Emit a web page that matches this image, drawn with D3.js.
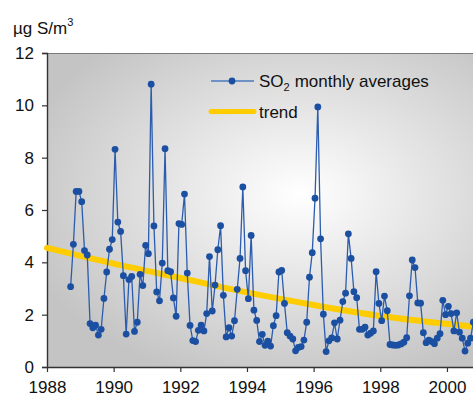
<!DOCTYPE html>
<html>
<head>
<meta charset="utf-8">
<script src="https://cdn.jsdelivr.net/npm/d3@7"></script>
<style>
  body { margin: 0; background: #fff; }
  svg { display: block; font-family: Arial, "Liberation Sans", sans-serif; }
</style>
</head>
<body>
<svg width="473" height="403"></svg>
<script>
// monthly SO2 averages, first value is September 1988
const startYear = 1988;
const startMonth = 8; // 0-based, September
const so2Monthly = [
  3.07, 4.69, 6.71, 6.71, 6.32, 4.45, 4.28, 1.66, 1.50, 1.60, 1.22, 1.44,
  2.62, 3.63, 4.50, 4.87, 8.32, 5.54, 5.18, 3.49, 1.26, 3.34, 3.46, 1.36,
  1.71, 3.54, 3.11, 4.65, 4.33, 10.81, 5.39, 2.87, 2.53, 3.97, 8.34, 3.68,
  3.64, 2.64, 1.94, 5.48, 5.45, 6.61, 3.59, 1.59, 1.01, 0.97, 1.40, 1.60,
  1.38, 2.04, 4.22, 2.14, 3.13, 4.48, 5.40, 2.74, 1.15, 1.50, 1.18, 1.77,
  2.97, 4.15, 6.88, 3.68, 2.61, 5.03, 2.17, 1.78, 0.97, 1.25, 0.83, 0.99,
  0.80, 1.58, 1.96, 3.63, 3.69, 2.43, 1.31, 1.18, 1.07, 0.62, 0.75, 0.78,
  1.03, 1.71, 3.43, 4.37, 6.45, 9.94, 4.90, 2.02, 0.59, 1.00, 1.11, 1.69,
  1.07, 1.79, 2.50, 2.82, 5.09, 4.15, 2.88, 2.65, 1.44, 1.44, 1.52, 1.22,
  1.29, 1.38, 3.64, 2.43, 1.77, 2.71, 2.15, 0.86, 0.84, 0.83, 0.84, 0.88,
  0.95, 1.12, 2.72, 4.09, 3.80, 2.45, 2.44, 1.31, 0.93, 1.03, 0.97, 0.89,
  1.10, 1.27, 2.55, 2.00, 2.32, 2.04, 1.38, 2.07, 1.33, 1.10, 0.61, 0.91,
  1.10, 1.71
];

// trend curve [year, value]
const trendYears = [1988, 1990, 1992, 1994, 1996, 1998, 2000, 2000.8];
const trendValues = [4.55, 3.95, 3.40, 2.85, 2.37, 1.95, 1.65, 1.54];

const xTicks = [1988, 1990, 1992, 1994, 1996, 1998, 2000];
const yTicks = [0, 2, 4, 6, 8, 10, 12];

const plotLeft = 47, plotTop = 53, plotBottom = 367;
const svg = d3.select("svg");

const x = d3.scaleLinear().domain([1988, 2002]).range([plotLeft, plotLeft + 14 * 33.33]);
const y = d3.scaleLinear().domain([0, 12]).range([plotBottom, plotTop]);

// gradient background of the plot area
const defs = svg.append("defs");
const grad = defs.append("radialGradient")
  .attr("id", "bg")
  .attr("cx", 0.54).attr("cy", 0.45).attr("r", 0.62)
  .attr("fx", 0.54).attr("fy", 0.45);
grad.append("stop").attr("offset", "0%").attr("stop-color", "#ffffff");
grad.append("stop").attr("offset", "100%").attr("stop-color", "#c4c4c4");

svg.append("rect")
  .attr("x", plotLeft).attr("y", plotTop)
  .attr("width", x(2002) - plotLeft).attr("height", plotBottom - plotTop)
  .attr("fill", "url(#bg)");

// top border
svg.append("line")
  .attr("x1", plotLeft).attr("x2", 473)
  .attr("y1", plotTop + 0.5).attr("y2", plotTop + 0.5)
  .attr("stroke", "#7a7a7a").attr("stroke-width", 1);

// axes
const xAxis = svg.append("g")
  .attr("transform", `translate(0,${plotBottom})`)
  .call(d3.axisBottom(x).tickValues(xTicks).tickFormat(d3.format("d")).tickSize(5).tickPadding(9));
const yAxis = svg.append("g")
  .attr("transform", `translate(${plotLeft},0)`)
  .call(d3.axisLeft(y).tickValues(yTicks).tickSize(5).tickPadding(8));

[xAxis, yAxis].forEach(g => {
  g.select(".domain").attr("stroke", "#333").attr("stroke-width", 1.4);
  g.selectAll(".tick line").attr("stroke", "#333").attr("stroke-width", 1.2);
  g.selectAll("text").attr("font-size", "17px").attr("fill", "#111")
    .attr("font-family", "Arial, 'Liberation Sans', sans-serif");
});
xAxis.select(".domain").attr("d", `M${plotLeft},0.5H473`);

// unit label
const unit = svg.append("text")
  .attr("x", 13).attr("y", 34)
  .attr("font-size", "17px").attr("fill", "#111");
unit.append("tspan").text("µg S/m");
unit.append("tspan").attr("font-size", "11px").attr("dy", -8).text("3");

// trend
const trendLine = d3.line()
  .x((d, i) => x(trendYears[i]))
  .y(d => y(d))
  .curve(d3.curveMonotoneX);

svg.append("path")
  .datum(trendValues)
  .attr("d", trendLine)
  .attr("fill", "none")
  .attr("stroke", "#ffcc00")
  .attr("stroke-width", 6)
  .attr("stroke-linecap", "round");

// monthly series
const monthYear = i => startYear + (startMonth + i + 0.5) / 12;

svg.append("path")
  .datum(so2Monthly)
  .attr("d", d3.line().x((d, i) => x(monthYear(i))).y(d => y(d)))
  .attr("fill", "none")
  .attr("stroke", "#2b5cad")
  .attr("stroke-width", 1.3);

svg.selectAll("circle.pt")
  .data(so2Monthly)
  .enter()
  .append("circle")
  .attr("class", "pt")
  .attr("cx", (d, i) => x(monthYear(i)))
  .attr("cy", d => y(d))
  .attr("r", 3.4)
  .attr("fill", "#1b4fa2");

// legend
const legend = svg.append("g");
legend.append("line")
  .attr("x1", 211).attr("x2", 254).attr("y1", 81).attr("y2", 81)
  .attr("stroke", "#4a78bf").attr("stroke-width", 1.5);
legend.append("circle")
  .attr("cx", 232).attr("cy", 81).attr("r", 3.4).attr("fill", "#1b4fa2");
const l1 = legend.append("text")
  .attr("x", 259).attr("y", 87)
  .attr("font-size", "17px").attr("fill", "#111");
l1.append("tspan").text("SO");
l1.append("tspan").attr("font-size", "11px").attr("dy", 4).text("2");
l1.append("tspan").attr("dy", -4).attr("dx", 5).text("monthly averages");

legend.append("line")
  .attr("x1", 211).attr("x2", 254).attr("y1", 111.5).attr("y2", 111.5)
  .attr("stroke", "#ffcc00").attr("stroke-width", 5)
  .attr("stroke-linecap", "round");
legend.append("text")
  .attr("x", 259).attr("y", 118)
  .attr("font-size", "17px").attr("fill", "#111")
  .text("trend");
</script>
</body>
</html>
